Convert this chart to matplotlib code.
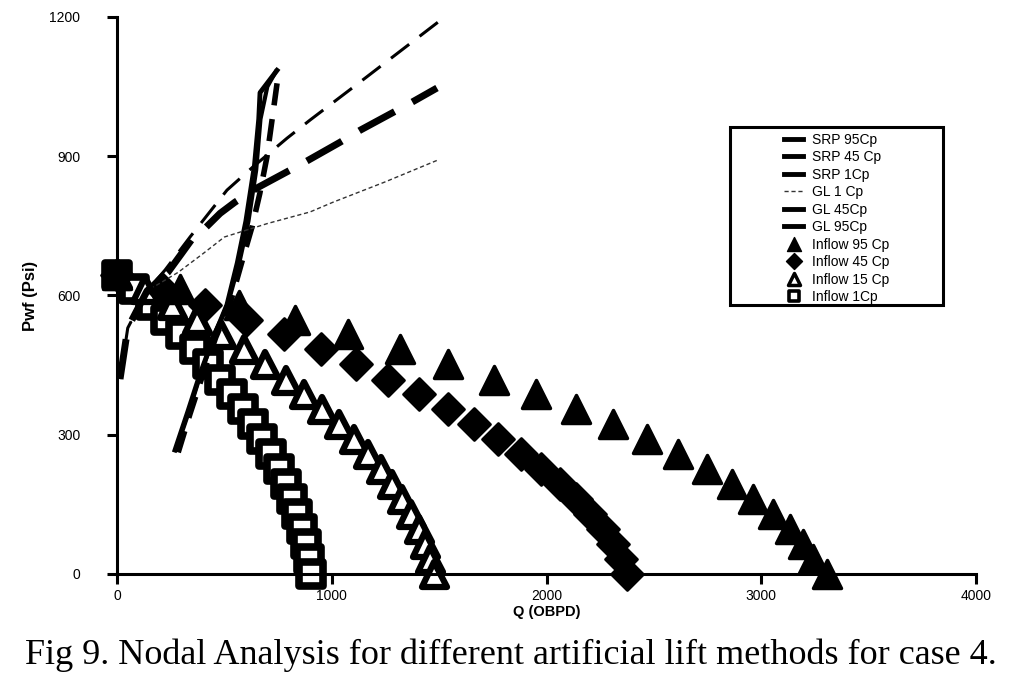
import matplotlib
matplotlib.use("Agg")
import matplotlib.pyplot as plt
from matplotlib.markers import MarkerStyle
from matplotlib.patches import Rectangle

plt.rcParams['font.family'] = ['Liberation Sans', 'DejaVu Sans']

# Flowing bottomhole pressure steps shared by the inflow curves (psi)
pwf = [645, 613, 580, 548, 516, 484, 452, 419, 387, 355, 323, 290, 258, 226, 194, 161, 129, 97, 65, 32, 0]

# Inflow (IPR) rates (OBPD)
q_inflow_95 = [0, 293, 568, 829, 1076, 1318, 1541, 1756, 1951, 2137, 2309, 2468, 2612, 2747, 2864, 2962, 3055, 3134, 3194, 3241, 3306]
q_inflow_45 = [0, 209, 408, 599, 779, 950, 1111, 1263, 1406, 1539, 1663, 1776, 1881, 1976, 2062, 2138, 2204, 2262, 2309, 2347, 2375]
q_inflow_15 = [0, 130, 254, 372, 484, 590, 690, 785, 873, 956, 1033, 1103, 1168, 1227, 1280, 1328, 1369, 1404, 1434, 1457, 1475]
q_inflow_1 = [0, 80, 156, 228, 297, 362, 424, 481, 536, 586, 634, 677, 717, 753, 786, 815, 840, 862, 880, 894, 905]

# Sucker rod pump outflow curves
srp95_q = [270, 330, 386, 450, 512, 560, 600, 640, 660, 666, 745]
srp95_p = [267, 350, 430, 510, 580, 670, 760, 880, 980, 1037, 1085]
srp45_q = [285, 340, 400, 460, 525, 580, 630, 665, 698, 726, 752]
srp45_p = [262, 345, 430, 510, 580, 670, 750, 820, 898, 992, 1080]
srp1_q = [278, 335, 393, 455, 518, 570, 612, 648, 668, 700, 740]
srp1_p = [272, 350, 436, 515, 585, 672, 760, 870, 980, 1050, 1083]

# Gas lift outflow curves
gl1_q = [14, 50, 140, 285, 400, 500, 700, 899, 1006, 1250, 1495]
gl1_p = [420, 530, 610, 650, 690, 726, 755, 780, 801, 845, 892]
gl45_q = [14, 50, 140, 237, 300, 350, 410, 480, 549, 657, 866, 1038, 1132, 1364, 1490]
gl45_p = [420, 530, 610, 650, 690, 722, 745, 777, 801, 833, 885, 930, 956, 1014, 1047]
gl95_q = [14, 50, 140, 224, 340, 512, 633, 792, 899, 1132, 1495]
gl95_p = [420, 530, 610, 655, 726, 827, 877, 939, 978, 1060, 1189]

fig = plt.figure(figsize=(10.22, 6.88), dpi=100)
ax = fig.add_axes([0.1145, 0.1657, 0.8405, 0.8096])

tri = MarkerStyle('^', joinstyle='round')
dia = MarkerStyle('D', joinstyle='round')
sq = MarkerStyle('s', joinstyle='round')

h = {}
h['Inflow 1Cp'], = ax.plot(q_inflow_1, pwf, ls='none', marker=sq, ms=17, mfc='white',
                           mec='black', mew=5.5, clip_on=False, zorder=2)
h['Inflow 15 Cp'], = ax.plot(q_inflow_15, pwf, ls='none', marker=tri, ms=18, mfc='white',
                             mec='black', mew=4.5, clip_on=False, zorder=2)
h['Inflow 45 Cp'], = ax.plot(q_inflow_45, pwf, ls='none', marker=dia, ms=16.5, mfc='black',
                             mec='black', mew=2, clip_on=False, zorder=2)
h['Inflow 95 Cp'], = ax.plot(q_inflow_95, pwf, ls='none', marker=tri, ms=20, mfc='black',
                             mec='black', mew=2.5, clip_on=False, zorder=2)

h['SRP 95Cp'], = ax.plot(srp95_q, srp95_p, color='black', lw=3.5, zorder=3)
h['SRP 45 Cp'], = ax.plot(srp45_q, srp45_p, color='black', lw=4, dashes=(4, 2.5),
                          dash_capstyle='butt', zorder=3)
h['SRP 1Cp'], = ax.plot(srp1_q, srp1_p, color='black', lw=3, zorder=3)
h['GL 1 Cp'], = ax.plot(gl1_q, gl1_p, color='#333333', lw=1, dashes=(3, 2), zorder=3)
h['GL 45Cp'], = ax.plot(gl45_q, gl45_p, color='black', lw=5, dashes=(5.8, 2.9),
                        dash_capstyle='butt', zorder=3)
h['GL 95Cp'], = ax.plot(gl95_q, gl95_p, color='black', lw=2.2, dashes=(7.5, 4.3),
                        dash_capstyle='butt', zorder=3)

ax.set_xlim(0, 4000)
ax.set_ylim(0, 1200)
ax.set_xticks([0, 1000, 2000, 3000, 4000])
ax.set_yticks([0, 300, 600, 900, 1200])
for side in ['top', 'right']:
    ax.spines[side].set_visible(False)
for side in ['left', 'bottom']:
    ax.spines[side].set_linewidth(2.2)
ax.tick_params(axis='both', direction='out', length=7.5, width=2.2, labelsize=10)
ax.tick_params(axis='y', pad=19)
ax.tick_params(axis='x', pad=3)

ax.set_xlabel('Q (OBPD)', fontsize=10.5, fontweight='bold')
ax.set_ylabel('Pwf (Psi)', fontsize=12, fontweight='bold')
ax.xaxis.set_label_coords(0.5, -0.056)
ax.yaxis.set_label_coords(-0.092, 0.5)

order = ['SRP 95Cp', 'SRP 45 Cp', 'SRP 1Cp', 'GL 1 Cp', 'GL 45Cp', 'GL 95Cp',
         'Inflow 95 Cp', 'Inflow 45 Cp', 'Inflow 15 Cp', 'Inflow 1Cp']
leg = fig.legend([h[k] for k in order], order, loc='center',
                 bbox_to_anchor=(0.8185, 0.6824), frameon=False, fontsize=10,
                 handlelength=1.4, handletextpad=0.6, labelspacing=0.25, borderpad=0.2)
leg_sizes = {'Inflow 95 Cp': (10, 1), 'Inflow 45 Cp': (8.5, 1),
             'Inflow 15 Cp': (9, 2.5), 'Inflow 1Cp': (7.5, 2.6)}
for name, lh in zip(order, leg.legend_handles):
    if name in leg_sizes:
        lh.set_markersize(leg_sizes[name][0])
        lh.set_markeredgewidth(leg_sizes[name][1])
    elif name != 'GL 1 Cp':
        lh.set_linewidth(3.5)
        lh.set_linestyle('-')
fig.patches.append(Rectangle((0.7143, 0.5567), 0.2084, 0.2587, transform=fig.transFigure,
                             fill=False, edgecolor='black', linewidth=2.2))

fig.text(0.5, 0.047, 'Fig 9. Nodal Analysis for different artificial lift methods for case 4.',
         ha='center', va='center', fontsize=26, family=['Liberation Serif', 'DejaVu Serif'])

fig.savefig('out.png', dpi=100)
